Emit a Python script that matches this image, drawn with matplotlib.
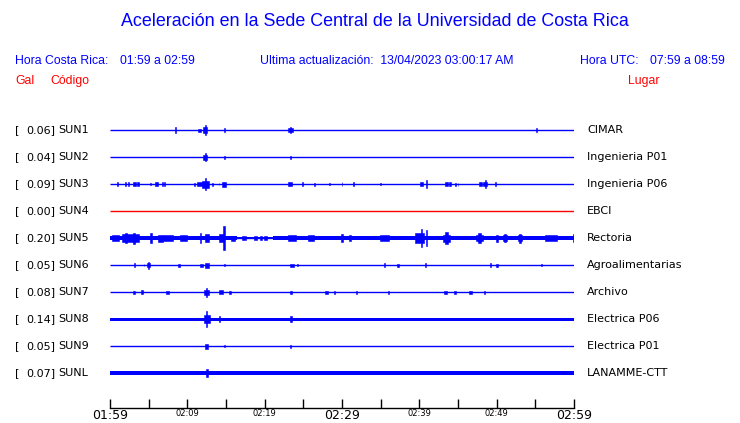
import matplotlib.pyplot as plt

# Stations, peak acceleration (Gal) and place names
stations = ["SUN1", "SUN2", "SUN3", "SUN4", "SUN5", "SUN6", "SUN7", "SUN8", "SUN9", "SUNL"]
gal = [0.06, 0.04, 0.09, 0.00, 0.20, 0.05, 0.08, 0.14, 0.05, 0.07]
places = ["CIMAR", "Ingenieria P01", "Ingenieria P06", "EBCI", "Rectoria",
          "Agroalimentarias", "Archivo", "Electrica P06", "Electrica P01", "LANAMME-CTT"]
trace_colors = ["blue", "blue", "blue", "red", "blue", "blue", "blue", "blue", "blue", "blue"]

# background noise level per station: (start min, end min, half amplitude px)
noise = [
    [],
    [],
    [],
    [],
    [(0, 16.4, 2.3), (16.4, 21.1, 1.0), (21.1, 60, 2.3)],
    [],
    [],
    [(0, 60, 1.5)],
    [],
    [(0, 60, 2.0)],
]

# envelope of the bursts: (minute after 01:59, half amplitude px, duration min)
events = [
    [(8.45, 3, 0.12), (11.55, 1.5, 0.4), (12.3, 5, 0.15), (12.3, 3, 0.5), (14.8, 2, 0.12),
     (23.3, 1.8, 0.6), (23.4, 3, 0.12), (55.2, 2, 0.12)],
    [(12.3, 4, 0.15), (12.3, 2.5, 0.45), (14.8, 1.5, 0.12), (23.3, 1.5, 0.12)],
    [(0.95, 2, 0.12), (2.0, 2, 0.25), (2.4, 2, 0.15), (3.15, 2, 0.4), (3.65, 2, 0.3),
     (5.2, 1.2, 0.1), (6.0, 2, 0.45), (6.8, 2, 0.12), (7.1, 2, 0.12), (10.9, 1.5, 0.15),
     (11.6, 2, 0.6), (12.3, 6, 0.15), (12.3, 3.5, 0.9), (13.3, 1.5, 0.12), (14.1, 1.2, 0.1),
     (14.7, 2.5, 0.5), (23.3, 2, 0.5), (24.9, 2, 0.12), (26.4, 1.5, 0.1), (28.4, 1.2, 0.1),
     (30.0, 2, 0.12), (31.5, 2, 0.12), (35.0, 1.2, 0.1), (40.3, 2, 0.4), (40.9, 4, 0.12),
     (43.5, 2, 0.3), (44.0, 2, 0.3), (44.7, 1.5, 0.1), (45.0, 1.5, 0.1), (47.9, 2, 0.4),
     (48.5, 4, 0.12), (48.5, 2, 0.5), (49.9, 2, 0.12)],
    [],
    [(0.65, 3.0, 0.9), (2.6, 3.8, 2.2), (2.07, 5, 0.25), (3.15, 5.5, 0.25), (5.3, 5, 0.25),
     (6.5, 3.5, 0.6), (7.5, 2.8, 1.4), (9.5, 2.6, 1.0), (11.7, 5, 0.15), (12.5, 4, 0.5),
     (14.4, 4, 0.6), (14.8, 12.3, 0.25), (15.9, 2.5, 0.5), (17.3, 2.3, 0.5), (18.8, 2.3, 0.3),
     (19.5, 2.3, 0.2), (20.1, 2.3, 0.3), (23.5, 2.6, 1.0), (26.0, 2.6, 0.8), (30.0, 4, 0.2),
     (31.0, 3, 0.2), (35.5, 2.6, 1.2), (40.0, 5, 1.2), (40.3, 9.3, 0.2),
     (40.9, 8, 0.15), (43.5, 3.5, 1.0), (43.5, 6, 0.3), (47.8, 3, 0.9), (47.8, 5, 0.3),
     (50.0, 3.5, 0.3), (51.1, 3, 0.6), (51.1, 4, 0.3), (53.0, 3, 0.6), (53.0, 4.5, 0.3),
     (57.0, 2.6, 1.5), (59.9, 4, 0.15)],
    [(3.15, 2, 0.1), (4.4, 1, 0.1), (5.0, 3.5, 0.15), (5.0, 2, 0.4), (8.9, 1.5, 0.25),
     (11.8, 1.5, 0.4), (12.5, 2.5, 0.5), (14.8, 1.2, 0.1), (23.5, 1.5, 0.5), (24.2, 1.2, 0.1),
     (35.5, 2, 0.1), (37.2, 1.5, 0.3), (40.8, 2, 0.1), (49.2, 2, 0.1), (50.0, 1.5, 0.3),
     (55.8, 1.2, 0.1)],
    [(3.1, 1.5, 0.25), (4.1, 1.8, 0.3), (7.45, 1.5, 0.3), (12.5, 4.5, 0.15), (12.5, 2.5, 0.6),
     (14.35, 2, 0.4), (15.5, 1.5, 0.3), (23.4, 1.5, 0.3), (28.0, 1.5, 0.5), (29.0, 1.5, 0.1),
     (31.9, 1.5, 0.2), (36.0, 1.5, 0.2), (43.4, 1.5, 0.4), (44.6, 1.5, 0.3), (46.6, 1.5, 0.3),
     (48.4, 1.5, 0.2)],
    [(12.5, 8, 0.15), (12.5, 4, 0.8), (14.2, 3, 0.15), (23.4, 3, 0.15)],
    [(12.5, 2.5, 0.4), (14.8, 1.2, 0.1), (23.4, 1.5, 0.12)],
    [(12.5, 4, 0.3)],
]

tick_minutes = list(range(0, 61, 5))
tick_labels = ["01:59", "", "02:09", "", "02:19", "", "02:29", "", "02:39", "", "02:49", "", "02:59"]
big_ticks = ["01:59", "02:29", "02:59"]

W, H = 740, 423
fig = plt.figure(figsize=(W / 100, H / 100), dpi=100)

# traces axes: 01:59 at x=110 px, 02:59 at x=574 px, rows start at y=130 px, 27 px apart
ax = fig.add_axes([110 / W, 1 - 408 / H, 464 / W, 292 / H])
row_px = 27.0
ax.set_xlim(0, 60)
ax.set_ylim(10.296, -0.52)

for i, st in enumerate(stations):
    c = trace_colors[i]
    y = 1 - (130 + i * row_px) / H
    ax.hlines(i, 0, 60, color=c, lw=1.0)
    for (a, b, h) in noise[i]:
        ax.bar((a + b) / 2, 2 * h / row_px, width=b - a, bottom=i - h / row_px,
               color=c, linewidth=0)
    for (m, h, d) in events[i]:
        ax.bar(m, 2 * h / row_px, width=d, bottom=i - h / row_px,
               color=c, edgecolor=c, linewidth=0.4)
    fig.text(15 / W, y, "[", fontsize=8, va="center")
    fig.text(55.5 / W, y, f"{gal[i]:.2f}]", fontsize=8, va="center", ha="right")
    fig.text(58 / W, y, st, fontsize=8, va="center")
    fig.text(587 / W, y, places[i], fontsize=8, va="center")

for s in ["top", "left", "right"]:
    ax.spines[s].set_visible(False)
ax.spines["bottom"].set_linewidth(1.0)
ax.set_yticks([])
ax.set_xticks(tick_minutes)
ax.set_xticklabels(tick_labels)
ax.tick_params(axis="x", direction="in", length=6.5, width=1.0, pad=0.5)
for lab in ax.get_xticklabels():
    if lab.get_text() in big_ticks:
        lab.set_fontsize(9)
    else:
        lab.set_fontsize(6)

# header
hf = "Liberation Sans"
fig.text(375 / W, 1 - 22 / H, "Aceleración en la Sede Central de la Universidad de Costa Rica",
         color="blue", fontsize=12.9, family=hf, ha="center", va="center")
fig.text(15 / W, 1 - 61 / H, "Hora Costa Rica:", color="blue", fontsize=8.8, family=hf, va="center")
fig.text(120 / W, 1 - 61 / H, "01:59 a 02:59", color="blue", fontsize=8.8, family=hf, va="center")
fig.text(260 / W, 1 - 61 / H, "Ultima actualización:  13/04/2023 03:00:17 AM", color="blue",
         fontsize=8.8, family=hf, va="center")
fig.text(580 / W, 1 - 61 / H, "Hora UTC:", color="blue", fontsize=8.8, family=hf, va="center")
fig.text(650 / W, 1 - 61 / H, "07:59 a 08:59", color="blue", fontsize=8.8, family=hf, va="center")
fig.text(15 / W, 1 - 81 / H, "Gal", color="red", fontsize=8.8, family=hf, va="center")
fig.text(50 / W, 1 - 81 / H, "Código", color="red", fontsize=8.8, family=hf, va="center")
fig.text(628 / W, 1 - 81 / H, "Lugar", color="red", fontsize=8.8, family=hf, va="center")

fig.savefig("out.png", dpi=100)
